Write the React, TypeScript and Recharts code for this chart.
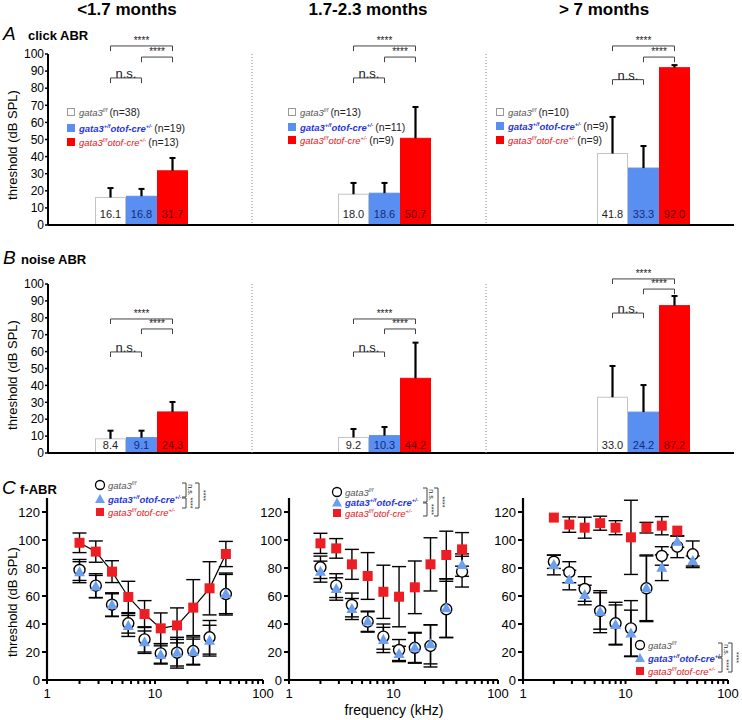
import React from "react";
import { ComposedChart, Bar, XAxis, YAxis, ReferenceLine, Scatter, ErrorBar } from "recharts";

const FONT = '"Liberation Sans", Arial, Helvetica, sans-serif';

const ageGroups = ["<1.7 months", "1.7-2.3 months", "> 7 months"];
const genotypeKeys = ["ff", "het", "cko"];
const groupN = [[38, 19, 13], [13, 11, 9], [10, 9, 9]];

// click ABR threshold, mean and SD per age group (dB SPL)
const clickMean = [[16.1, 16.8, 31.7], [18.0, 18.6, 50.7], [41.8, 33.3, 92.0]];
const clickSd = [[5.5, 4.3, 7.5], [6.6, 6.0, 18.3], [21.4, 12.9, 1.5]];
// noise ABR
const noiseMean = [[8.4, 9.1, 24.3], [9.2, 10.3, 44.2], [33.0, 24.2, 87.2]];
const noiseSd = [[4.8, 4.1, 5.9], [5.0, 5.1, 21.1], [18.5, 16.0, 5.7]];

// significance brackets: pair, label, height in dB
const sigPairs: [number, number, string][] = [[0, 2, "****"], [1, 2, "****"], [0, 1, "n.s."]];
const clickSigY = [[104.7, 98.2, 86], [104.7, 98.2, 86], [104.7, 98.2, 85]];
const noiseSigY = [[79.3, 73.4, 59.8], [79.3, 73.4, 59.8], [103, 97, 82.8]];

const pctTicks = [0, 10, 20, 30, 40, 50, 60, 70, 80, 90, 100];
const dbTicks = [0, 20, 40, 60, 80, 100, 120];
const freqTicks = [1, 2, 3, 4, 5, 6, 7, 8, 9, 10, 20, 30, 40, 50, 60, 70, 80, 90, 100];
const freqLabels = [1, 10, 100];

// f-ABR, frequency in kHz
const freqs = [2, 2.83, 4, 5.66, 8, 11.3, 16, 22.6, 32, 45.3];
const ckoOldFreqs = [2, 2.83, 4, 5.66, 8, 11.3, 16, 22.6, 32];

const ctrlYoung = [78.6, 67.4, 53.8, 40.5, 29, 19, 19.5, 20.7, 30.5, 61.4];
const ctrlYoungSd = [7.5, 8.5, 8.5, 7, 9, 7, 11, 10, 12, 15];
const hetYoung = [77, 66.7, 53.6, 38.6, 27, 17.9, 19.5, 20.2, 28.1, 61.4];
const hetYoungSd = [7.5, 8, 8, 7.5, 8, 6.5, 9.5, 9, 11, 14];
const ckoYoung = [98, 91.7, 77.4, 59.3, 47.1, 36.9, 39, 51.7, 65.5, 90];
const ckoYoungSd = [7, 7.6, 7.8, 11.2, 9.6, 11, 12.5, 20, 19, 9];

const ctrlMid = [80.5, 67.4, 53.6, 41.7, 31, 21.4, 23, 24.3, 50.5, 77.4];
const ctrlMidSd = [8, 8.5, 8.5, 7.5, 9, 7.5, 11, 15, 20, 11];
const hetMid = [77.4, 65, 50.7, 41.7, 28.6, 18.6, 23, 25.5, 51.2, 82.1];
const hetMidSd = [7.5, 8, 7.5, 7, 9, 5.5, 10.5, 14, 21, 8];
const ckoMid = [97.6, 94, 82.6, 74.3, 63, 59.5, 66.2, 82.6, 89.3, 93.3];
const ckoMidSd = [7.2, 7, 10.7, 16.7, 19, 21.5, 18.8, 19, 17, 12];

const ctrlOld = [84.5, 77, 65, 49.3, 40.5, 36.9, 65.5, 88.6, 95.2, 89.8];
const ctrlOldSd = [4.8, 7.5, 8.8, 13, 15, 19.8, 23.8, 6.6, 7.8, 9.5];
const hetOld = [82.1, 71.4, 60.7, 48.8, 39.3, 33.3, 65.5, 80.2, 98.8, 85];
const hetOldSd = [7, 7, 7, 15, 14.3, 16.6, 23.1, 9.2, 4, 3.6];
const ckoOld = [116, 111, 108.8, 112, 108.8, 101.9, 108.8, 110.2, 106.7];
const ckoOldSd = [0, 5.5, 7.5, 5, 5, 26.5, 3.8, 6.5, 0];

const barFill = ["#ffffff", "#5a8ff2", "#ff0000"];
const barEdge = ["#c4c4c4", "#5a8ff2", "#ff0000"];
const valueInk = ["#222222", "#142a7a", "#6a0000"];
const genoSup = ["f/f", "+/f", "f/f"];
const genoInk = ["#555555", "#1f35d8", "#e3141b"];
const TRI_BLUE = "#6b9ff0";
const SQ_RED = "#ee1d23";

const BAR_W = 31;
const MT = 30;
const MB = 10;
// [box left, plot left, plot right, centre of first bar]
const groupBox = [[0, 48, 252, 110.5], [251, 252, 486, 353.5], [485, 486, 734, 612.5]];

function BarWithErr(p: any) {
  const { x, y, width, height, payload, lift } = p;
  const i = payload.i;
  const ppu = height / payload.v;
  const yTop = y - payload.sd * ppu;
  const cx = x + width / 2;
  return (
    <g>
      <rect x={x + 0.5} y={y} width={width - 1} height={height} fill={barFill[i]} stroke={barEdge[i]} />
      <line x1={cx} x2={cx} y1={y} y2={yTop} stroke="#000" strokeWidth={2.2} />
      <line x1={cx - 3} x2={cx + 3} y1={yTop} y2={yTop} stroke="#000" strokeWidth={2} />
      <text x={cx} y={y + height - lift} textAnchor="middle" fontSize={11} fontFamily={FONT} fill={valueInk[i]}>
        {payload.v.toFixed(1)}
      </text>
    </g>
  );
}

function BarGroup({ g, top, plotH, means, sds, sigY, lift }: any) {
  const [boxL, plotL, plotR, firstC] = groupBox[g];
  const padL = firstC - BAR_W / 2 - plotL;
  const padR = plotR - plotL - padL - 3 * BAR_W;
  const data = genotypeKeys.map((k, i) => ({ k, i, v: means[i], sd: sds[i] }));
  const first = g === 0;
  return (
    <div style={{ position: "absolute", left: boxL, top }}>
      <ComposedChart
        width={plotR - boxL}
        height={MT + plotH + MB}
        data={data}
        margin={{ top: MT, right: 0, bottom: 0, left: 0 }}
        barCategoryGap={0}
      >
        <XAxis
          dataKey="k"
          type="category"
          padding={{ left: padL, right: padR }}
          tick={false}
          tickLine={false}
          axisLine={{ stroke: "#000", strokeWidth: 2 }}
          height={MB}
        />
        {first ? (
          <YAxis
            type="number"
            domain={[0, 100]}
            ticks={pctTicks}
            interval={0}
            width={plotL - boxL}
            tick={{ fontSize: 12, fill: "#000", fontFamily: FONT }}
            tickSize={3}
            tickMargin={1}
            tickLine={{ stroke: "#000", strokeWidth: 1.5 }}
            axisLine={{ stroke: "#000", strokeWidth: 2 }}
          />
        ) : (
          <YAxis
            type="number"
            domain={[0, 100]}
            width={plotL - boxL}
            tick={false}
            tickLine={false}
            axisLine={{ stroke: "#888", strokeDasharray: "1 2" }}
          />
        )}
        <Bar dataKey="v" isAnimationActive={false} shape={(p: any) => <BarWithErr {...p} lift={lift} />} />
        {sigPairs.map(([a, b, lab], j) => {
          const y = sigY[j];
          const ka = genotypeKeys[a];
          const kb = genotypeKeys[b];
          const ns = lab === "n.s.";
          return (
            <React.Fragment key={j}>
              <ReferenceLine
                segment={[{ x: ka, y }, { x: kb, y }]}
                stroke="#444"
                ifOverflow="visible"
                label={{
                  value: lab,
                  position: "top",
                  offset: ns ? 0 : 2,
                  fontSize: ns ? 13 : 10,
                  fill: "#222",
                  fontFamily: FONT,
                }}
              />
              <ReferenceLine segment={[{ x: ka, y }, { x: ka, y: y - 3 }]} stroke="#444" ifOverflow="visible" />
              <ReferenceLine segment={[{ x: kb, y }, { x: kb, y: y - 3 }]} stroke="#444" ifOverflow="visible" />
            </React.Fragment>
          );
        })}
      </ComposedChart>
    </div>
  );
}

const OpenCircle = (p: any) => <circle cx={p.cx} cy={p.cy} r={5.5} fill="#fff" stroke="#000" strokeWidth={1.4} />;
const BlueTri = (p: any) => (
  <polygon points={`${p.cx},${p.cy - 6} ${p.cx + 5.5},${p.cy + 4} ${p.cx - 5.5},${p.cy + 4}`} fill={TRI_BLUE} />
);
const RedSq = (p: any) => <rect x={p.cx - 5} y={p.cy - 5} width={10} height={10} fill={SQ_RED} />;

const pts = (fs: number[], vals: number[], sds: number[]) => fs.map((f, i) => ({ f, y: vals[i], sd: sds[i] }));

// y axis runs a little past 120, as in the source figure
const C_MAX = 130;
const C_PLOT_H = 182;

function FreqPanel({ left, yW, plotW, ctrl, ctrlSd, het, hetSd, cko, ckoSd, ckoF, connect }: any) {
  return (
    <div style={{ position: "absolute", left, top: 486 }}>
      <ComposedChart width={yW + plotW + 14} height={12 + C_PLOT_H + 30} margin={{ top: 12, right: 14, bottom: 0, left: 0 }}>
        <XAxis
          type="number"
          dataKey="f"
          scale="log"
          domain={[1, 100]}
          ticks={freqTicks}
          interval={0}
          tickFormatter={(v: number) => (freqLabels.includes(v) ? String(v) : "")}
          tick={{ fontSize: 13, fill: "#000", fontFamily: FONT }}
          tickSize={4}
          tickMargin={5}
          tickLine={{ stroke: "#000", strokeWidth: 2 }}
          axisLine={{ stroke: "#000", strokeWidth: 2.2 }}
          height={30}
        />
        <YAxis
          type="number"
          domain={[0, C_MAX]}
          ticks={dbTicks}
          interval={0}
          width={yW}
          tick={{ fontSize: 13, fill: "#000", fontFamily: FONT }}
          tickSize={5}
          tickMargin={2}
          tickLine={{ stroke: "#000", strokeWidth: 2 }}
          axisLine={{ stroke: "#000", strokeWidth: 2.2 }}
        />
        <Scatter data={pts(freqs, ctrl, ctrlSd)} dataKey="y" shape={OpenCircle} isAnimationActive={false}>
          <ErrorBar dataKey="sd" direction="y" width={7} stroke="#000" strokeWidth={1.4} />
        </Scatter>
        <Scatter data={pts(freqs, het, hetSd)} dataKey="y" shape={BlueTri} isAnimationActive={false}>
          <ErrorBar dataKey="sd" direction="y" width={7} stroke="#000" strokeWidth={1.4} />
        </Scatter>
        <Scatter
          data={pts(ckoF, cko, ckoSd)}
          dataKey="y"
          shape={RedSq}
          line={connect ? { stroke: "#000", strokeWidth: 1.2 } : false}
          lineType="joint"
          isAnimationActive={false}
        >
          <ErrorBar dataKey="sd" direction="y" width={7} stroke="#000" strokeWidth={1.4} />
        </Scatter>
      </ComposedChart>
    </div>
  );
}

function GenoLabel({ x, y, i, n }: { x: number; y: number; i: number; n?: number }) {
  const ink = genoInk[i];
  return (
    <text x={x} y={y} fontSize={9.5} fontFamily={FONT} fill={ink} fontStyle="italic" fontWeight={i === 1 ? "bold" : "normal"}>
      <tspan>gata3</tspan>
      <tspan fontSize={5.5} dy={-4}>{genoSup[i]}</tspan>
      {i > 0 ? <tspan dy={4}>otof-cre</tspan> : null}
      {i > 0 ? <tspan fontSize={5.5} dy={-4}>+/-</tspan> : null}
      {n !== undefined ? (
        <tspan dy={4} dx={2} fill="#222" fontStyle="normal" fontWeight="normal" fontSize={10.5}>
          (n={n})
        </tspan>
      ) : null}
    </text>
  );
}

function BarLegend({ sx, rows, g }: { sx: number; rows: number[]; g: number }) {
  return (
    <g>
      {rows.map((ry, i) => (
        <g key={i}>
          <rect x={sx - 3.5} y={ry - 3.5} width={7} height={7} fill={barFill[i]} stroke={i === 0 ? "#999" : barFill[i]} />
          <GenoLabel x={sx + 8} y={ry + 3.5} i={i} n={groupN[g][i]} />
        </g>
      ))}
    </g>
  );
}

function Bracket({ x, y1, y2, label }: { x: number; y1: number; y2: number; label: string }) {
  return (
    <g>
      <path d={`M${x - 4},${y1} H${x} V${y2} H${x - 4}`} fill="none" stroke="#444" strokeWidth={1} />
      <text
        transform={`translate(${x + 2},${(y1 + y2) / 2}) rotate(90)`}
        textAnchor="middle"
        fontSize={7}
        fontFamily={FONT}
        fill="#222"
      >
        {label}
      </text>
    </g>
  );
}

function CLegend({ mx, rows, bx, bigX, by }: { mx: number; rows: number[]; bx: number; bigX: number; by: number[] }) {
  const [r0, r1, r2] = rows;
  return (
    <g>
      <circle cx={mx} cy={r0} r={4.5} fill="#fff" stroke="#000" strokeWidth={1.3} />
      <polygon points={`${mx},${r1 - 5} ${mx + 5},${r1 + 4} ${mx - 5},${r1 + 4}`} fill={TRI_BLUE} />
      <rect x={mx - 4} y={r2 - 4} width={8} height={8} fill={SQ_RED} />
      <GenoLabel x={mx + 8} y={r0 + 3.5} i={0} />
      <GenoLabel x={mx + 8} y={r1 + 3.5} i={1} />
      <GenoLabel x={mx + 8} y={r2 + 3.5} i={2} />
      <Bracket x={bx} y1={by[0]} y2={by[1]} label="n.s." />
      <Bracket x={bx} y1={by[1] + 1} y2={by[2]} label="****" />
      <Bracket x={bigX} y1={by[0]} y2={by[2]} label="****" />
    </g>
  );
}

function Overlay() {
  const titleX = [127, 368, 604];
  const yLab = (cy: number) => (
    <text
      transform={`translate(12,${cy}) rotate(-90)`}
      textAnchor="middle"
      dominantBaseline="central"
      fontSize={13}
      fontFamily={FONT}
      fill="#000"
    >
      threshold (dB SPL)
    </text>
  );
  return (
    <svg width={742} height={720} style={{ position: "absolute", left: 0, top: 0, pointerEvents: "none" }}>
      {ageGroups.map((t, i) => (
        <text key={t} x={titleX[i]} y={15} textAnchor="middle" fontSize={17} fontWeight="bold" fontFamily={FONT}>
          {t}
        </text>
      ))}
      <text x={3} y={40} fontSize={19} fontStyle="italic" fontFamily={FONT}>A</text>
      <text x={28} y={40} fontSize={13} fontWeight="bold" fontFamily={FONT}>click ABR</text>
      <text x={3} y={264} fontSize={19} fontStyle="italic" fontFamily={FONT}>B</text>
      <text x={21} y={264} fontSize={13} fontWeight="bold" fontFamily={FONT}>noise ABR</text>
      <text x={2} y={494} fontSize={19} fontStyle="italic" fontFamily={FONT}>C</text>
      <text x={20} y={494} fontSize={13} fontWeight="bold" fontFamily={FONT}>f-ABR</text>
      {yLab(145)}
      {yLab(375)}
      {yLab(602)}
      <BarLegend sx={71} rows={[112, 128, 142]} g={0} />
      <BarLegend sx={292} rows={[112, 127, 140]} g={1} />
      <BarLegend sx={500} rows={[112, 126, 140]} g={2} />
      <CLegend mx={100} rows={[485, 499, 512]} bx={186} bigX={199} by={[483, 497, 508]} />
      <CLegend mx={337} rows={[492, 502.5, 513]} bx={427} bigX={438} by={[488, 502, 516]} />
      <CLegend mx={640} rows={[645, 658, 671]} bx={722} bigX={732} by={[643, 657, 672]} />
      <text x={394} y={715} textAnchor="middle" fontSize={14} fontFamily={FONT}>frequency (kHz)</text>
    </svg>
  );
}

export default function App() {
  return (
    <div style={{ position: "absolute", left: 0, top: 0, width: 742, height: 720, background: "#fff", fontFamily: FONT }}>
      {ageGroups.map((t, g) => (
        <BarGroup key={`a${t}`} g={g} top={54 - MT} plotH={171} means={clickMean[g]} sds={clickSd[g]} sigY={clickSigY[g]} lift={7} />
      ))}
      {ageGroups.map((t, g) => (
        <BarGroup key={`b${t}`} g={g} top={284 - MT} plotH={169} means={noiseMean[g]} sds={noiseSd[g]} sigY={noiseSigY[g]} lift={4} />
      ))}
      <FreqPanel left={0} yW={47} plotW={216} ctrl={ctrlYoung} ctrlSd={ctrlYoungSd} het={hetYoung} hetSd={hetYoungSd}
        cko={ckoYoung} ckoSd={ckoYoungSd} ckoF={freqs} connect />
      <FreqPanel left={249} yW={40} plotW={209} ctrl={ctrlMid} ctrlSd={ctrlMidSd} het={hetMid} hetSd={hetMidSd}
        cko={ckoMid} ckoSd={ckoMidSd} ckoF={freqs} connect={false} />
      <FreqPanel left={483} yW={40} plotW={205} ctrl={ctrlOld} ctrlSd={ctrlOldSd} het={hetOld} hetSd={hetOldSd}
        cko={ckoOld} ckoSd={ckoOldSd} ckoF={ckoOldFreqs} connect={false} />
      <Overlay />
    </div>
  );
}
